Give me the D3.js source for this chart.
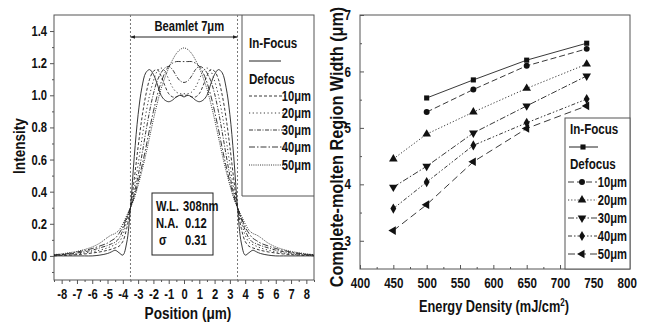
<!DOCTYPE html>
<html><head><meta charset="utf-8">
<script src="https://cdn.jsdelivr.net/npm/d3@7"></script>
<style>
body{margin:0;background:#fff}
svg{display:block}
text{font-family:"Liberation Sans",Arial,sans-serif;font-weight:bold;fill:#111}
</style>
</head><body><svg id="c" width="646" height="322"></svg>
<script>
// ---------- Left panel data: intensity profiles ----------
const positions = [-8.5,-8,-7.5,-7,-6.5,-6,-5.5,-5,-4.75,-4.5,-4.25,-4,-3.75,-3.5,-3.25,-3,-2.75,-2.5,-2.25,-2,-1.75,-1.5,-1.25,-1,-0.75,-0.5,-0.25,0,0.25,0.5,0.75,1,1.25,1.5,1.75,2,2.25,2.5,2.75,3,3.25,3.5,3.75,4,4.25,4.5,4.75,5,5.5,6,6.5,7,7.5,8,8.5];
const profInFocus = [0,0,0,0,0,0,0.005,0.015,0.025,0.035,0.02,0.005,0.08,0.30,0.62,0.88,1.05,1.14,1.16,1.13,1.07,1.0,0.97,0.96,0.97,0.99,1.0,0.99,
  1.0,0.99,0.97,0.96,0.97,1.0,1.07,1.13,1.16,1.14,1.05,0.88,0.62,0.30,0.08,0.005,0.02,0.035,0.025,0.015,0.005,0,0,0,0,0,0];
const prof10 = [0,0.003,0.005,0.008,0.012,0.018,0.025,0.035,0.042,0.05,0.06,0.09,0.17,0.30,0.48,0.68,0.86,1.0,1.1,1.15,1.16,1.12,1.06,1.01,0.99,0.99,1.0,1.0,
  1.0,0.99,0.99,1.01,1.06,1.12,1.16,1.15,1.1,1.0,0.86,0.68,0.48,0.30,0.17,0.09,0.06,0.05,0.042,0.035,0.025,0.018,0.012,0.008,0.005,0.003,0];
const prof20 = [0.003,0.005,0.008,0.012,0.018,0.026,0.036,0.05,0.06,0.07,0.085,0.13,0.21,0.30,0.42,0.57,0.73,0.88,1.0,1.09,1.15,1.17,1.15,1.1,1.05,1.02,1.01,1.01,
  1.01,1.02,1.05,1.1,1.15,1.17,1.15,1.09,1.0,0.88,0.73,0.57,0.42,0.30,0.21,0.13,0.085,0.07,0.06,0.05,0.036,0.026,0.018,0.012,0.008,0.005,0.003];
const prof30 = [0.005,0.008,0.012,0.018,0.026,0.036,0.05,0.065,0.075,0.085,0.11,0.16,0.23,0.30,0.39,0.50,0.63,0.77,0.90,1.01,1.09,1.14,1.17,1.18,1.16,1.12,1.09,1.08,
  1.09,1.12,1.16,1.18,1.17,1.14,1.09,1.01,0.90,0.77,0.63,0.50,0.39,0.30,0.23,0.16,0.11,0.085,0.075,0.065,0.05,0.036,0.026,0.018,0.012,0.008,0.005];
const prof40 = [0.006,0.01,0.016,0.024,0.034,0.046,0.062,0.08,0.095,0.11,0.14,0.18,0.24,0.30,0.37,0.46,0.56,0.67,0.79,0.90,1.0,1.08,1.14,1.18,1.2,1.21,1.21,1.21,
  1.21,1.21,1.2,1.18,1.14,1.08,1.0,0.90,0.79,0.67,0.56,0.46,0.37,0.30,0.24,0.18,0.14,0.11,0.095,0.08,0.062,0.046,0.034,0.024,0.016,0.01,0.006];
const prof50 = [0.008,0.013,0.02,0.028,0.04,0.056,0.08,0.115,0.13,0.14,0.16,0.2,0.25,0.30,0.36,0.44,0.53,0.63,0.74,0.85,0.95,1.04,1.11,1.17,1.22,1.26,1.285,1.295,
  1.285,1.26,1.22,1.17,1.11,1.04,0.95,0.85,0.74,0.63,0.53,0.44,0.36,0.30,0.25,0.2,0.16,0.14,0.13,0.115,0.08,0.056,0.04,0.028,0.02,0.013,0.008];
const posTicks = [-8,-7,-6,-5,-4,-3,-2,-1,0,1,2,3,4,5,6,7,8];
const intensityTicks = [0,0.2,0.4,0.6,0.8,1.0,1.2,1.4];
const defocusLabels = ["10μm","20μm","30μm","40μm","50μm"];

// ---------- Right panel data: region width vs energy ----------
const energy = [450,500,570,650,740];
const widthInFocus = [null,5.53,5.85,6.2,6.5];
const width10 = [null,5.28,5.68,6.1,6.4];
const width20 = [4.45,4.89,5.28,5.7,6.13];
const width30 = [3.95,4.32,4.91,5.39,5.92];
const width40 = [3.57,4.04,4.69,5.09,5.51];
const width50 = [3.18,3.64,4.4,4.99,5.39];
const energyTicks = [400,450,500,550,600,650,700,750,800];
const widthTicks = [3,4,5,6,7];

const svg = d3.select("#c");
const ink = "#222";
const frameCol = "#555";

// horizontally condense text about its anchor point
function squeeze(sel, k){
  sel.each(function(){
    const t = d3.select(this);
    const x = +t.attr("x") || 0, y = +t.attr("y") || 0;
    const prev = t.attr("transform") || "";
    t.attr("transform", `${prev} translate(${x},${y}) scale(${k},1) translate(${-x},${-y})`);
  });
}
const K = 0.8;

// ================= LEFT PANEL =================
const L = {x0:54, x1:314, y0:15, y1:280};
const xL = d3.scaleLinear().domain([-8.5,8.5]).range([L.x0,L.x1]);
const yL = d3.scaleLinear().domain([-0.15,1.5]).range([L.y1,L.y0]);

const gL = svg.append("g");
const axBL = gL.append("g").attr("transform",`translate(0,${L.y1})`)
  .call(d3.axisBottom(xL).tickValues(posTicks).tickSize(4).tickPadding(3).tickFormat(d=>String(d)));
axBL.append("g").call(d3.axisBottom(xL).tickValues(d3.range(-8.5,8.6,1)).tickSize(2).tickFormat(""));
const axLL = gL.append("g").attr("transform",`translate(${L.x0},0)`)
  .call(d3.axisLeft(yL).tickValues(intensityTicks).tickSize(4).tickPadding(3).tickFormat(d3.format(".1f")));
axLL.append("g").call(d3.axisLeft(yL).tickValues([-0.1,0.1,0.3,0.5,0.7,0.9,1.1,1.3]).tickSize(2).tickFormat(""));
[axBL,axLL].forEach(a=>{
  a.selectAll(".domain").remove();
  a.selectAll("line").attr("stroke",frameCol);
  a.selectAll("text").style("font-size","14px").attr("fill","#111");
});
axBL.selectAll("text").attr("dy","0.85em");

gL.append("rect").attr("x",L.x0).attr("y",L.y0).attr("width",L.x1-L.x0).attr("height",L.y1-L.y0)
  .attr("fill","none").attr("stroke",frameCol).attr("stroke-width",1);

[-3.5,3.5].forEach(p=>{
  gL.append("line").attr("x1",xL(p)).attr("x2",xL(p)).attr("y1",L.y0).attr("y2",L.y1)
    .attr("stroke","#777").attr("stroke-width",1).attr("stroke-dasharray","2,2");
});
const defs = svg.append("defs");
defs.append("marker").attr("id","ah").attr("viewBox","0 0 10 10").attr("refX",10).attr("refY",5)
  .attr("markerWidth",5).attr("markerHeight",5).attr("orient","auto-start-reverse")
  .append("path").attr("d","M0,1L10,5L0,9Z").attr("fill",ink);
gL.append("line").attr("x1",xL(-3.5)).attr("x2",xL(3.5)).attr("y1",37).attr("y2",37)
  .attr("stroke",ink).attr("stroke-width",1).attr("marker-start","url(#ah)").attr("marker-end","url(#ah)");
gL.append("text").attr("x",xL(0.35)).attr("y",31).attr("text-anchor","middle").style("font-size","14px").text("Beamlet 7μm");

const lineL = d3.line().x((d,i)=>xL(positions[i])).y(d=>yL(d)).curve(d3.curveCatmullRom.alpha(0.5));
const profSeries = [
  {v:profInFocus, dash:null},
  {v:prof10, dash:"3,2"},
  {v:prof20, dash:"1.2,2.5"},
  {v:prof30, dash:"4,1.5,1,1.5"},
  {v:prof40, dash:"6,2,1.5,2"},
  {v:prof50, dash:"1,1.2"}
];
profSeries.forEach(s=>{
  gL.append("path").datum(s.v).attr("d",lineL).attr("fill","none").attr("stroke",ink)
    .attr("stroke-width",0.9).attr("stroke-dasharray",s.dash);
});

gL.append("path").attr("d",`M242,${L.y0}V196H${L.x1}`).attr("fill","none").attr("stroke",frameCol);
gL.append("text").attr("x",249).attr("y",48).style("font-size","14.5px").text("In-Focus");
gL.append("line").attr("x1",249).attr("x2",281).attr("y1",61).attr("y2",61).attr("stroke",ink);
gL.append("text").attr("x",249).attr("y",84).style("font-size","14.5px").text("Defocus");
const legYL = [96,113,130,147,165];
profSeries.slice(1).forEach((s,i)=>{
  gL.append("line").attr("x1",249).attr("x2",285).attr("y1",legYL[i]).attr("y2",legYL[i])
    .attr("stroke",ink).attr("stroke-width",0.9).attr("stroke-dasharray",s.dash);
  gL.append("text").attr("x",311).attr("y",legYL[i]+5).attr("text-anchor","end").style("font-size","14px").text(defocusLabels[i]);
});

gL.append("rect").attr("x",152).attr("y",193).attr("width",61).attr("height",62).attr("fill","#fff").attr("stroke",ink);
[["W.L.","308nm",211],["N.A.","0.12",228],["σ","0.31",245]].forEach((r,i)=>{
  gL.append("text").attr("x",i==2?159:156).attr("y",r[2]).style("font-size","14px").text(r[0]);
  gL.append("text").attr("x",i==0?183:185).attr("y",r[2]).style("font-size","14px").text(r[1]);
});

gL.append("text").attr("transform","translate(25,146) rotate(-90)").attr("text-anchor","middle").style("font-size","17px").text("Intensity");
gL.append("text").attr("x",188).attr("y",319).attr("text-anchor","middle").style("font-size","17px").text("Position (μm)");

// ================= RIGHT PANEL =================
const R = {x0:360, x1:630, y0:15, y1:269};
const xR = d3.scaleLinear().domain([400,800]).range([R.x0,R.x0+266.7]);
const yR = d3.scaleLinear().domain([2.5,7]).range([R.y1,R.y0]);
const gR = svg.append("g");
const axBR = gR.append("g").attr("transform",`translate(0,${R.y1})`)
  .call(d3.axisBottom(xR).tickValues(energyTicks).tickSize(-4).tickPadding(7).tickFormat(d3.format("d")));
axBR.append("g").call(d3.axisBottom(xR).tickValues(d3.range(425,800,50)).tickSize(-2).tickFormat(""));
const axLR = gR.append("g").attr("transform",`translate(${R.x0},0)`)
  .call(d3.axisLeft(yR).tickValues(widthTicks).tickSize(-4).tickPadding(9).tickFormat(d3.format("d")));
axLR.append("g").call(d3.axisLeft(yR).tickValues([3.5,4.5,5.5,6.5]).tickSize(-2).tickFormat(""));
[axBR,axLR].forEach(a=>{
  a.selectAll(".domain").remove();
  a.selectAll("line").attr("stroke",frameCol);
  a.selectAll("text").style("font-size","14.5px").attr("fill","#111");
});
axBR.selectAll("text").attr("dy","0.85em");
gR.append("rect").attr("x",R.x0).attr("y",R.y0).attr("width",R.x1-R.x0).attr("height",R.y1-R.y0)
  .attr("fill","none").attr("stroke",frameCol);

const sym = (type,size)=>d3.symbol().type(type).size(size)();
const widthSeries = [
  {v:widthInFocus, dash:null, shape:d3.symbolSquare, rot:0, size:26},
  {v:width10, dash:"6,3", shape:d3.symbolCircle, rot:0, size:28},
  {v:width20, dash:"1.2,2", shape:d3.symbolTriangle, rot:0, size:32},
  {v:width30, dash:"6,2,1.5,2", shape:d3.symbolTriangle, rot:180, size:32},
  {v:width40, dash:"4,2,1.5,2,1.5,2", shape:d3.symbolDiamond, rot:0, size:30},
  {v:width50, dash:"7,4", shape:d3.symbolTriangle, rot:-90, size:32}
];
const lineR = d3.line().defined(d=>d.w!=null).x(d=>xR(d.e)).y(d=>yR(d.w));
widthSeries.forEach(s=>{
  const pts = energy.map((e,i)=>({e:e,w:s.v[i]}));
  gR.append("path").datum(pts).attr("d",lineR).attr("fill","none").attr("stroke",ink)
    .attr("stroke-width",0.9).attr("stroke-dasharray",s.dash);
  gR.selectAll(null).data(pts.filter(d=>d.w!=null)).enter().append("path")
    .attr("d",sym(s.shape,s.size)).attr("fill","#111")
    .attr("transform",d=>`translate(${xR(d.e)},${yR(d.w)}) rotate(${s.rot})`);
});

gR.append("rect").attr("x",565).attr("y",118).attr("width",R.x1-565).attr("height",R.y1-118).attr("fill","#fff").attr("stroke",frameCol);
gR.append("text").attr("x",570).attr("y",134).style("font-size","14.5px").text("In-Focus");
gR.append("line").attr("x1",569).attr("x2",598).attr("y1",147).attr("y2",147).attr("stroke",ink);
gR.append("path").attr("d",sym(d3.symbolSquare,26)).attr("transform","translate(583,147)").attr("fill","#111");
gR.append("text").attr("x",570).attr("y",169).style("font-size","14.5px").text("Defocus");
const legYR = [182,200,218,236,254];
widthSeries.slice(1).forEach((s,i)=>{
  gR.append("line").attr("x1",568).attr("x2",597).attr("y1",legYR[i]).attr("y2",legYR[i])
    .attr("stroke",ink).attr("stroke-width",0.9).attr("stroke-dasharray",s.dash);
  gR.append("path").attr("d",sym(s.shape,s.size)).attr("fill","#111")
    .attr("transform",`translate(582,${legYR[i]}) rotate(${s.rot})`);
  gR.append("text").attr("x",627).attr("y",legYR[i]+5).attr("text-anchor","end").style("font-size","14px").text(defocusLabels[i]);
});

const yTitle = gR.append("text").attr("transform",`translate(343,147) rotate(-90)`).attr("text-anchor","middle")
  .style("font-size","18px").text("Complete-molten Region Width (μm)");
const xt = gR.append("text").attr("x",494).attr("y",312).attr("text-anchor","middle").style("font-size","16px");
xt.append("tspan").text("Energy Density (mJ/cm");
xt.append("tspan").attr("dy",-6).style("font-size","10px").text("2");
xt.append("tspan").attr("dy",6).text(")");

// condense all text like the original narrow bold face
squeeze(svg.selectAll("text").filter(function(){ return this !== yTitle.node(); }), K);
squeeze(yTitle, 0.9);
</script>
</body></html>
